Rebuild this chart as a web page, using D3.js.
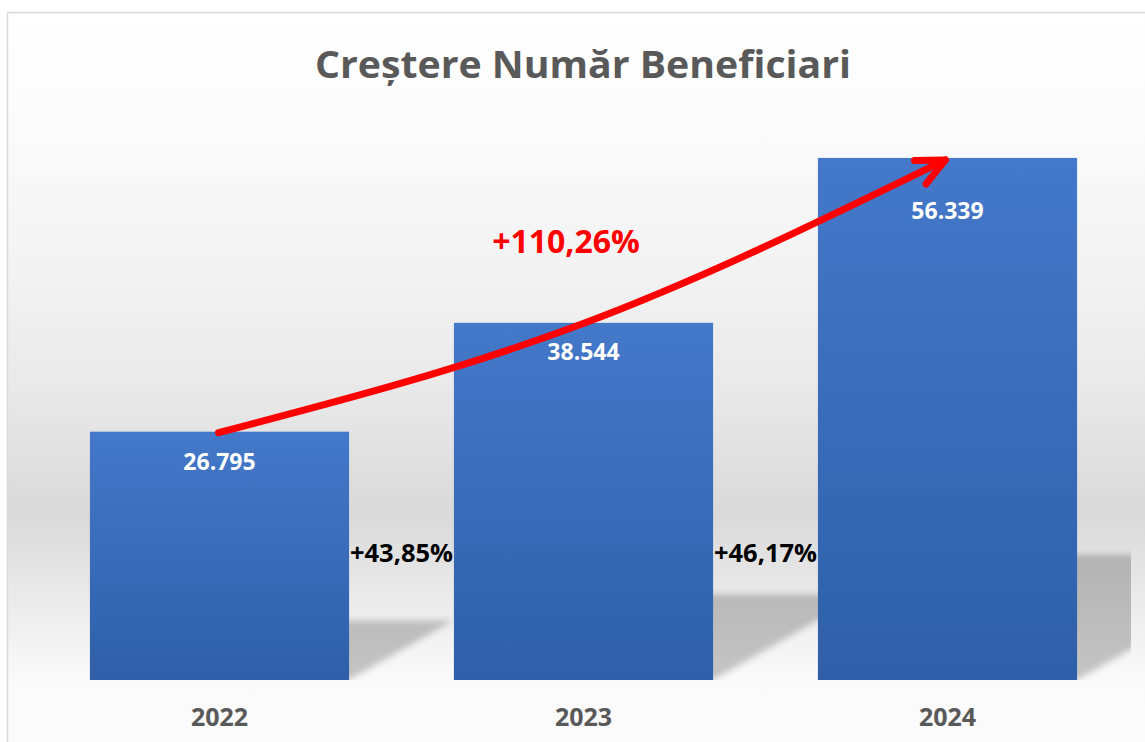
<!DOCTYPE html>
<html>
<head>
<meta charset="utf-8">
<script src="https://cdn.jsdelivr.net/npm/d3@7"></script>
<style>
  html, body { margin: 0; padding: 0; background: #ffffff; overflow: hidden; }
  svg { display: block; }
  text { font-family: "Open Sans", "Noto Sans", sans-serif; font-weight: 700; }
</style>
</head>
<body>
<svg id="chart" width="1145" height="742"></svg>
<script>
// ---- data ----
const title = "Creștere Număr Beneficiari";
const years = ["2022", "2023", "2024"];
const values = [26795, 38544, 56339];
const growthLabels = ["+43,85%", "+46,17%"];
const totalGrowthLabel = "+110,26%";

// ---- layout ----
const W = 1145, H = 742;
const labelDy = [38, 37, 61];   // baseline offset of value labels below bar top
const roFormat = d3.formatLocale({ decimal: ",", thousands: ".", grouping: [3], currency: ["", ""] }).format(",d");

const svg = d3.select("#chart");
const defs = svg.append("defs");

// background gradient
const bg = defs.append("linearGradient").attr("id", "bgGrad")
  .attr("gradientUnits", "userSpaceOnUse").attr("x1", 0).attr("x2", 0).attr("y1", 12).attr("y2", 742);
[[12, "#ffffff"], [110, "#fcfcfc"], [280, "#f2f2f2"], [400, "#e8e8e8"], [513, "#d9d9d9"],
 [600, "#ebebeb"], [660, "#f6f6f6"], [680, "#fafafa"], [742, "#fbfbfb"]]
  .forEach(([y, c]) => bg.append("stop").attr("offset", (y - 12) / 730).attr("stop-color", c));

// bar gradient
const bar = defs.append("linearGradient").attr("id", "barGrad").attr("x1", 0).attr("x2", 0).attr("y1", 0).attr("y2", 1);
bar.append("stop").attr("offset", 0).attr("stop-color", "#4478c9");
bar.append("stop").attr("offset", 1).attr("stop-color", "#2f5fa8");

// shadow blur
defs.append("filter").attr("id", "blur").attr("x", "-20%").attr("y", "-20%").attr("width", "140%").attr("height", "140%")
  .append("feGaussianBlur").attr("stdDeviation", 3);

defs.append("clipPath").attr("id", "plotClip")
  .append("rect").attr("x", 37.5).attr("y", 100).attr("width", 1131 - 37.5).attr("height", 580);

// chart area
svg.append("rect").attr("x", 7.5).attr("y", 12.5).attr("width", 1300).attr("height", 900)
  .attr("fill", "url(#bgGrad)").attr("stroke", "#d9d9d9").attr("stroke-width", 1.5);

// scales
const x = d3.scaleBand().domain(years).range([37.5, 1129.5]).paddingInner(0.288).paddingOuter(0.144);
const y = d3.scaleLinear().domain([0, 60000]).range([680, 124]);
const base = y(0);

const data = years.map((yr, i) => ({ yr, v: values[i], i }));

// perspective shadows
svg.append("g").attr("clip-path", "url(#plotClip)")
  .selectAll("path").data(data).join("path")
  .attr("d", d => {
    const x0 = x(d.yr), x1 = x0 + x.bandwidth();
    const h = base - y(d.v);
    const sh = 0.24 * h, dx = 1.75 * sh;
    return `M${x0},${base}L${x1},${base}L${x1 + dx},${base - sh}L${x0 + dx},${base - sh}Z`;
  })
  .attr("fill", "#000").attr("fill-opacity", 0.21).attr("filter", "url(#blur)");

// bars
svg.append("g").selectAll("rect").data(data).join("rect")
  .attr("x", d => x(d.yr)).attr("width", x.bandwidth())
  .attr("y", d => y(d.v)).attr("height", d => base - y(d.v))
  .attr("fill", "url(#barGrad)");

// category axis
const xAxis = svg.append("g").attr("transform", `translate(0,${base})`)
  .call(d3.axisBottom(x).tickSize(0).tickPadding(0));
xAxis.select(".domain").remove();
xAxis.selectAll("text").attr("dy", null).attr("y", 46)
  .attr("fill", "#595959").attr("font-size", 25)
  .style("font-family", '"Open Sans", sans-serif').style("font-weight", 700);

// value labels
svg.append("g").selectAll("text").data(data).join("text")
  .attr("x", d => x(d.yr) + x.bandwidth() / 2)
  .attr("y", d => y(d.v) + labelDy[d.i])
  .attr("text-anchor", "middle").attr("fill", "#ffffff").attr("font-size", 23)
  .text(d => roFormat(d.v));

// growth labels between bars
svg.append("g").selectAll("text").data(growthLabels).join("text")
  .attr("x", (d, i) => (x(years[i]) + x.bandwidth() + x(years[i + 1])) / 2)
  .attr("y", 562)
  .attr("text-anchor", "middle").attr("fill", "#000000").attr("font-size", 25.5)
  .text(d => d);

// red arrow through bar tops
const pts = data.map(d => [x(d.yr) + x.bandwidth() / 2 - (d.i === 2 ? 2 : 1), y(d.v) + (d.i === 2 ? 2 : 1)]);
const arrowPath = svg.append("path")
  .attr("d", d3.line().curve(d3.curveNatural)(pts))
  .attr("fill", "none").attr("stroke", "#ff0000").attr("stroke-width", 7).attr("stroke-linecap", "round");
const node = arrowPath.node();
const L = node.getTotalLength();
const tip = node.getPointAtLength(L), back = node.getPointAtLength(L - 20);
const ang = Math.atan2(back.y - tip.y, back.x - tip.x);
const armLen = 31, spread = 25 * Math.PI / 180;
const arms = [ang - spread, ang + spread].map(a => [tip.x + armLen * Math.cos(a), tip.y + armLen * Math.sin(a)]);
svg.append("path")
  .attr("d", `M${arms[0][0]},${arms[0][1]}L${tip.x},${tip.y}L${arms[1][0]},${arms[1][1]}`)
  .attr("fill", "none").attr("stroke", "#ff0000").attr("stroke-width", 7)
  .attr("stroke-linecap", "round").attr("stroke-linejoin", "round");

// total growth label
svg.append("text").attr("x", 566).attr("y", 253)
  .attr("text-anchor", "middle").attr("fill", "#ff0000").attr("font-size", 32)
  .text(totalGrowthLabel);

// title
svg.append("text").attr("x", 583).attr("y", 78)
  .attr("text-anchor", "middle").attr("fill", "#595959").attr("font-size", 37)
  .attr("textLength", 536).attr("lengthAdjust", "spacingAndGlyphs")
  .text(title);
</script>
</body>
</html>
